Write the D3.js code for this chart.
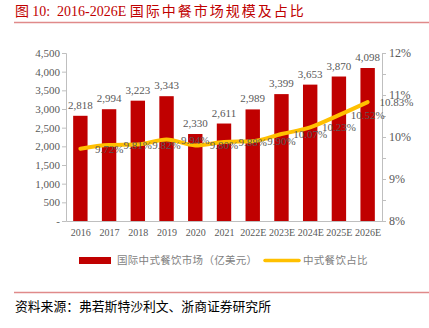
<!DOCTYPE html>
<html><head><meta charset="utf-8">
<script src="https://cdn.jsdelivr.net/npm/d3@7/dist/d3.min.js"></script>
<style>
html,body{margin:0;padding:0;background:#fff;}
svg{display:block;}
</style></head>
<body>
<svg id="c" width="429" height="328"></svg>
<script>
const categories = ["2016","2017","2018","2019","2020","2021","2022E","2023E","2024E","2025E","2026E"];
const marketValues = [2818,2994,3223,3343,2330,2611,2989,3399,3653,3870,4098];
const shareValues = [9.72,9.81,9.82,9.94,9.80,9.88,9.90,10.07,10.23,10.52,10.83];
const leftTicks = [0,500,1000,1500,2000,2500,3000,3500,4000,4500];
const rightTicks = [8,8.5,9,9.5,10,10.5,11,11.5,12];
const legendLabels = ["国际中式餐饮市场（亿美元）","中式餐饮占比"];
const sourceText = "资料来源：弗若斯特沙利文、浙商证券研究所";

const svg = d3.select("#c");
const serif = "'Liberation Serif','Times New Roman','Noto Serif CJK SC','Noto Sans CJK SC',serif";
const cjk = "'Noto Sans CJK SC',sans-serif";
const red = "#c00000", gold = "#ffc000", grey = "#595959", axisGrey = "#bfbfbf";

// title
const t = svg.append("text").attr("x",15).attr("y",16).attr("fill",red).style("font-size","14px").style("font-family",serif);
t.append("tspan").style("font-family",cjk).text("图\u00a0");
t.append("tspan").text("10:\u00a0\u00a02016-2026E\u00a0");
t.append("tspan").style("font-family",cjk).style("letter-spacing","2px").text("国际中餐市场规模及占比");
svg.append("line").attr("x1",14).attr("x2",429).attr("y1",22.5).attr("y2",22.5).attr("stroke","#e08a8a").attr("stroke-width",1.5);

const xc = d3.scalePoint().domain(categories).range([66,382]).padding(0.5);
const yL = d3.scaleLinear().domain([0,4500]).range([221,53]);
const yR = d3.scaleLinear().domain([8,12]).range([221,53]);

// bars
svg.append("g").selectAll("rect").data(marketValues).join("rect")
  .attr("x",(d,i)=>xc(categories[i]) - 7.2)
  .attr("width",14.4)
  .attr("y",d=>yL(d)).attr("height",d=>yL(0)-yL(d))
  .attr("fill",red);

// bar labels
svg.append("g").selectAll("text").data(marketValues).join("text")
  .attr("x",(d,i)=>xc(categories[i])).attr("y",d=>yL(d)-7)
  .attr("text-anchor","middle").attr("fill",grey)
  .style("font-size","11px").style("font-family",serif)
  .text(d=>d3.format(",")(d));

// left axis
const la = svg.append("g").attr("transform","translate(66,0)")
  .call(d3.axisLeft(yL).tickValues(leftTicks).tickSize(4).tickPadding(2).tickFormat(d=>d===0?"-":d3.format(",")(d)));
la.select(".domain").attr("stroke",axisGrey);
la.selectAll(".tick line").attr("stroke",axisGrey);
la.selectAll("text").attr("fill",grey).style("font-size","11px").style("font-family",serif);

// right axis
const ra = svg.append("g").attr("transform","translate(382,0)")
  .call(d3.axisRight(yR).tickValues(rightTicks).tickSize(4).tickPadding(3).tickFormat(d=>Number.isInteger(d)?d+"%":""));
ra.select(".domain").attr("stroke",axisGrey);
ra.selectAll(".tick line").attr("stroke",axisGrey);
ra.selectAll("text").attr("fill",grey).style("font-size","12px").style("font-family",serif);

// x axis
const xa = svg.append("g").attr("transform","translate(0,221)")
  .call(d3.axisBottom(xc).tickSize(0).tickPadding(8));
xa.select(".domain").attr("stroke",axisGrey);
xa.selectAll("text").attr("fill",grey).style("font-size","10px").style("font-family",serif);

// line
const line = d3.line().x((d,i)=>xc(categories[i])).y(d=>yR(d)).curve(d3.curveMonotoneX);
svg.append("path").datum(shareValues).attr("d",line).attr("fill","none").attr("stroke",gold).attr("stroke-width",4).attr("stroke-linecap","round");

// line labels (offset one category to the right as in the source)
const step = xc.step();
svg.append("g").selectAll("text").data(shareValues).join("text")
  .attr("x",(d,i)=>xc(categories[i]) + step)
  .attr("y",d=>yR(d)+4)
  .attr("text-anchor","middle").attr("fill",grey)
  .style("font-size","11px").style("font-family",serif)
  .text(d=>d3.format(".2f")(d)+"%");

// legend
svg.append("rect").attr("x",79).attr("y",257).attr("width",32).attr("height",7).attr("fill",red);
svg.append("text").attr("x",117).attr("y",264).attr("fill","#7f7f7f").style("font-size","10.5px").style("font-family",cjk).style("letter-spacing","0.3px").text(legendLabels[0]);
svg.append("line").attr("x1",265).attr("x2",299).attr("y1",260.5).attr("y2",260.5).attr("stroke",gold).attr("stroke-width",3.5).attr("stroke-linecap","round");
svg.append("text").attr("x",303).attr("y",264).attr("fill","#7f7f7f").style("font-size","10.5px").style("font-family",cjk).style("letter-spacing","0.3px").text(legendLabels[1]);

// footer
svg.append("line").attr("x1",14).attr("x2",429).attr("y1",292.5).attr("y2",292.5).attr("stroke","#e08a8a").attr("stroke-width",1.5);
svg.append("text").attr("x",15).attr("y",311).attr("fill","#000").style("font-size","12.8px").style("font-family",cjk).text(sourceText);
</script>
</body></html>
